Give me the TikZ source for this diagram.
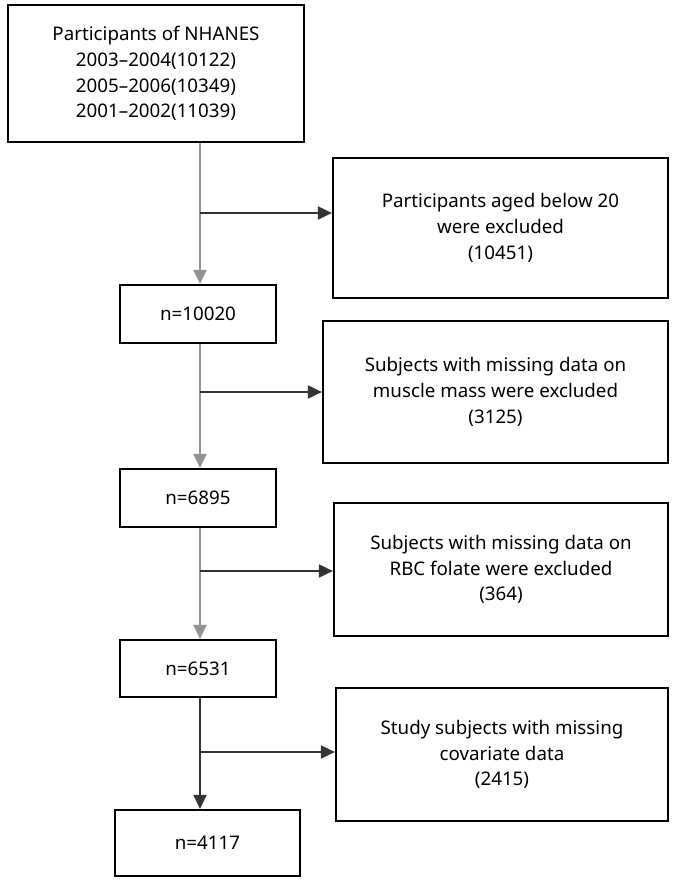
\documentclass[tikz,border=0pt]{standalone}
\usepackage{fontspec}
\setmainfont{Noto Sans}
\usetikzlibrary{arrows.meta, positioning}

\tikzset{
  box/.style={draw, line width=1.8pt, align=center, font=\fontsize{16}{22}\selectfont, inner sep=2pt},
  flow/.style={line width=2.2pt, draw=gray!85, -{Triangle[length=12pt,width=11pt]}},
  side/.style={line width=2pt, draw=black!80, -{Triangle[length=12pt,width=11pt]}}
}

\begin{document}
\begin{tikzpicture}[x=0.03cm, y=-0.03cm]
        \useasboundingbox (0,0) rectangle (685,891);
        % Main column
        \node[box, minimum width=296*0.03cm, minimum height=137*0.03cm] (start) at (156,73.5) {Participants of NHANES\\2003--2004(10122)\\2005--2006(10349)\\2001--2002(11039)};
        \node[box, minimum width=156*0.03cm, minimum height=58*0.03cm] (n1) at (198,314) {n=10020};
        \node[box, minimum width=156*0.03cm, minimum height=58*0.03cm] (n2) at (198,498) {n=6895};
        \node[box, minimum width=156*0.03cm, minimum height=57*0.03cm] (n3) at (198,668.5) {n=6531};
        \node[box, minimum width=185*0.03cm, minimum height=66*0.03cm] (n4) at (207.5,843) {n=4117};

        % Exclusion boxes
        \node[box, minimum width=335*0.03cm, minimum height=140*0.03cm] (ex1) at (500.5,228) {Participants aged below 20\\were excluded\\(10451)};
        \node[box, minimum width=345*0.03cm, minimum height=142*0.03cm] (ex2) at (495.5,392) {Subjects with missing data on\\muscle mass were excluded\\(3125)};
        \node[box, minimum width=334*0.03cm, minimum height=133*0.03cm] (ex3) at (501,569.5) {Subjects with missing data on\\RBC folate were excluded\\(364)};
        \node[box, minimum width=332*0.03cm, minimum height=133*0.03cm] (ex4) at (502,754.5) {Study subjects with missing\\covariate data\\(2415)};

        % Branch points
        \coordinate (b1) at (200,213);
        \coordinate (b2) at (200,392);
        \coordinate (b3) at (200,571);
        \coordinate (b4) at (200,752);

        % Vertical flow
        \draw[flow] (start.south -| b1) -- (n1.north -| b1);
        \draw[flow] (n1.south -| b2) -- (n2.north -| b2);
        \draw[flow] (n2.south -| b3) -- (n3.north -| b3);
        \draw[side] (n3.south -| b4) -- (n4.north -| b4);

        % Exclusions
        \draw[side] (b1) -- (b1 -| ex1.west);
        \draw[side] (b2) -- (b2 -| ex2.west);
        \draw[side] (b3) -- (b3 -| ex3.west);
        \draw[side] (b4) -- (b4 -| ex4.west);
\end{tikzpicture}
\end{document}
